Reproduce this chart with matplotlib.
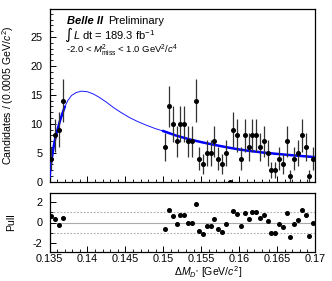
import numpy as np
import matplotlib
matplotlib.use('Agg')
import matplotlib.pyplot as plt
from matplotlib.ticker import MultipleLocator, FixedLocator

plt.rcParams['font.family'] = ['Liberation Sans', 'DejaVu Sans']
plt.rcParams['mathtext.fontset'] = 'custom'
plt.rcParams['mathtext.rm'] = 'Liberation Sans'
plt.rcParams['mathtext.it'] = 'Liberation Sans:italic'
plt.rcParams['mathtext.bf'] = 'Liberation Sans:bold'
plt.rcParams['axes.unicode_minus'] = False

# Данные: центры бинов и число кандидатов (бин 0.0005 ГэВ)
low_centers = [0.13525, 0.13575, 0.13625, 0.13675]
low_counts = [4, 8, 9, 14]
low_pulls = [0.62, 0.3, -0.2, 0.47]

high_centers = list(np.round(np.arange(0.15025, 0.1700, 0.0005), 5))
high_counts = [6, 13, 10, 7, 10, 10, 7, 7, 14, 4,
               3, 5, 5, 7, 4, 3, 5, 0, 9, 8,
               4, 8, 6, 8, 8, 6, 7, 5, 2, 2,
               4, 3, 7, 1, 4, 5, 8, 6, 1, 4]
high_pulls = [-0.66, 1.28, 0.62, -0.17, 0.75, 0.79, -0.04, 0.0, 1.85, -0.81,
              -1.15, -0.38, -0.35, 0.3, -0.6, -0.92, -0.18, np.nan, 1.12, 0.89,
              -0.38, 0.95, 0.34, 1.02, 1.05, 0.43, 0.77, 0.12, -1.0, -1.0,
              -0.17, -0.48, 0.93, -1.42, -0.12, 0.26, 1.28, 0.7, -1.35, -0.05]

x_ticks = [0.135, 0.14, 0.145, 0.15, 0.155, 0.16, 0.165, 0.17]
x_labels = ['0.135', '0.14', '0.145', '0.15', '0.155', '0.16', '0.165', '0.17']

# Кривая фита
fit_x = [0.13498, 0.13502, 0.13508, 0.13515, 0.13522, 0.13530, 0.13545, 0.13565,
         0.13585, 0.13610, 0.13635, 0.13665, 0.13700, 0.13740, 0.13790, 0.13850,
         0.13920, 0.14000, 0.14080, 0.14160, 0.14250, 0.14340, 0.14450, 0.14560,
         0.14670, 0.14780, 0.14890, 0.15000, 0.15175, 0.15350, 0.15515, 0.15680,
         0.15845, 0.16010, 0.16175, 0.16340, 0.16505, 0.16670, 0.16835, 0.17000]
fit_y = [0.0, 0.9, 1.8, 2.6, 3.3, 4.0, 5.3, 6.8,
         8.0, 9.2, 10.4, 11.6, 12.9, 14.0, 14.9, 15.4,
         15.65, 15.55, 15.15, 14.55, 13.75, 12.85, 11.9, 11.05,
         10.35, 9.75, 9.2, 8.75, 7.95, 7.3, 6.8, 6.35,
         5.93, 5.55, 5.26, 5.0, 4.8, 4.6, 4.42, 4.25]

W, H = 332, 281
fig = plt.figure(figsize=(W / 100, H / 100), dpi=100)

left, right = 49.5 / W, 315 / W
ax = fig.add_axes([left, 1 - 181.7 / H, right - left, (181.7 - 9.3) / H])
axp = fig.add_axes([left, 1 - 251.7 / H, right - left, (251.7 - 193.3) / H])

# Верхняя панель
fx = np.array(fit_x)
fy = np.array(fit_y)
ax.plot(fx, fy, color='#1a1aff', lw=0.7, zorder=2)
for lo, hi in [(0.135, 0.137), (0.150, 0.170)]:
    m = (fx >= lo - 1e-9) & (fx <= hi + 1e-9)
    ax.plot(fx[m], fy[m], color='#0000ff', lw=1.8, zorder=3)

xs = np.array(low_centers + high_centers)
ns = np.array(low_counts + high_counts, dtype=float)
ax.errorbar(xs, ns, yerr=np.sqrt(ns), fmt='o', color='black', ecolor='#333333',
            ms=2.6, elinewidth=0.9, capsize=0, zorder=4)

ax.set_xlim(0.135, 0.170)
ax.set_ylim(0, 29.8)
ax.set_yticks([0, 5, 10, 15, 20, 25])
ax.yaxis.set_minor_locator(MultipleLocator(1))
ax.xaxis.set_major_locator(FixedLocator(x_ticks))
ax.xaxis.set_minor_locator(MultipleLocator(0.001))
ax.tick_params(axis='x', labelbottom=False)
ax.set_ylabel('Candidates / (0.0005 GeV/$c^2$)', fontsize=7.6)

# Панель пулов
ps = np.array(low_pulls + high_pulls)
axp.axhline(0, color='#aaaaaa', lw=0.8, zorder=1)
axp.axhline(1, color='#aaaaaa', lw=0.8, ls=(0, (1.5, 1.5)), zorder=1)
axp.axhline(-1, color='#aaaaaa', lw=0.8, ls=(0, (1.5, 1.5)), zorder=1)
axp.plot(xs, ps, 'o', color='black', ms=2.6, zorder=3)
axp.set_xlim(0.135, 0.170)
axp.set_ylim(-2.9, 2.9)
axp.set_yticks([-2, 0, 2])
axp.yaxis.set_minor_locator(MultipleLocator(1))
axp.set_xticks(x_ticks)
axp.set_xticklabels(x_labels)
axp.xaxis.set_minor_locator(MultipleLocator(0.001))
axp.set_ylabel('Pull', fontsize=7.6)

for a in (ax, axp):
    a.tick_params(which='both', direction='in', top=False, right=False, labelsize=7.8)
    a.tick_params(which='major', length=4.5, width=0.7)
    a.tick_params(which='minor', length=2.3, width=0.6)
    a.tick_params(axis='y', pad=5)
    a.tick_params(axis='x', pad=2)
    for s in a.spines.values():
        s.set_linewidth(0.9)

ax.yaxis.set_label_coords(-0.125, 0.5)
axp.yaxis.set_label_coords(-0.125, 0.5)

fig.text(208 / W, 1 - 272 / H, r'$\Delta M_{D^{*}}$ [GeV/$c^2$]', fontsize=7.6,
         ha='center', va='center')

# Подписи
fig.text(67 / W, 1 - 21 / H, 'Belle II', fontsize=8, fontweight='bold',
         fontstyle='italic', ha='left', va='center')
fig.text(108 / W, 1 - 21 / H, 'Preliminary', fontsize=8, ha='left', va='center')
fig.text(64 / W, 1 - 35 / H, '\u222b', fontsize=11, ha='left', va='center',
         family=['DejaVu Sans'])
fig.text(73 / W, 1 - 35 / H, r'$L$ dt = 189.3 fb$^{-1}$', fontsize=8,
         ha='left', va='center')
fig.text(66 / W, 1 - 50 / H, r'-2.0 < $M^{2}_{\rm miss}$ < 1.0 GeV$^{2}$/$c^{4}$',
         fontsize=6.8, ha='left', va='center')

fig.savefig('out.png', dpi=100)
